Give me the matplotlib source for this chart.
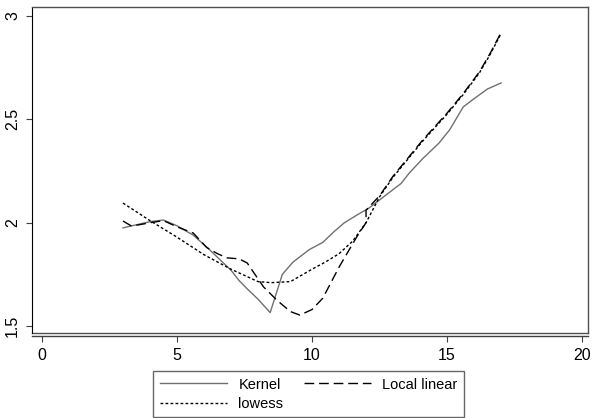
import numpy as np
import matplotlib
matplotlib.use("Agg")
import matplotlib.pyplot as plt

plt.rcParams['font.family'] = ['Liberation Sans', 'DejaVu Sans']

# kernel regression (gray solid)
kern_x = [3.0, 3.5, 4.0, 4.5, 5.0, 5.6, 6.2, 6.6, 7.0, 7.3, 7.6, 8.0, 8.45, 8.9, 9.3,
          9.9, 10.4, 10.8, 11.2, 11.7, 12.1, 12.6, 13.3, 13.6, 14.1, 14.7, 15.1, 15.6,
          16.0, 16.5, 17.0]
kern_y = [1.975, 1.99, 2.005, 2.013, 1.985, 1.94, 1.87, 1.82, 1.77, 1.72, 1.68, 1.63,
          1.565, 1.75, 1.81, 1.87, 1.905, 1.955, 2.0, 2.04, 2.07, 2.12, 2.19, 2.24,
          2.31, 2.385, 2.45, 2.56, 2.6, 2.647, 2.676]

# local linear (black dashed)
ll_x = [3.0, 3.3, 3.6, 4.0, 4.5, 5.0, 5.6, 6.1, 6.5, 6.85, 7.3, 7.6, 8.2, 8.7, 9.2,
        9.55, 10.0, 10.4, 11.0, 11.65, 12.0, 12.0, 12.5, 13.0, 14.1, 15.0, 15.6,
        16.2, 16.6, 17.0]
ll_y = [2.008, 1.985, 1.99, 2.0, 2.01, 1.98, 1.95, 1.88, 1.85, 1.83, 1.825, 1.805,
        1.69, 1.625, 1.57, 1.553, 1.58, 1.635, 1.785, 1.93, 2.0, 2.06, 2.13, 2.225,
        2.4, 2.53, 2.625, 2.73, 2.82, 2.92]

# lowess (black dotted)
lw_x = [3.0, 4.0, 5.0, 6.0, 7.0, 8.0, 8.5, 9.2, 10.0, 10.5, 11.0, 11.5, 12.0, 12.5,
        13.0, 14.1, 15.0, 15.6, 16.2, 16.6, 17.0]
lw_y = [2.095, 2.01, 1.93, 1.845, 1.775, 1.715, 1.71, 1.715, 1.775, 1.81, 1.85, 1.91,
        2.0, 2.125, 2.22, 2.395, 2.525, 2.62, 2.725, 2.815, 2.915]

xticks = [0, 5, 10, 15, 20]
yticks = [1.5, 2, 2.5, 3]
ytick_labels = ["1.5", "2", "2.5", "3"]

fig = plt.figure(figsize=(5.93, 4.18), dpi=100)
ax = fig.add_axes([32/593, 85/418, 556/593, 326/418])

l1, = ax.plot(kern_x, kern_y, color="#707070", lw=1.0, label="Kernel")
l2, = ax.plot(ll_x, ll_y, color="black", lw=1.0, dashes=(7, 3.5), label="Local linear")
l3, = ax.plot(lw_x, lw_y, color="black", lw=1.0, dashes=(2, 1.6), label="lowess")

ax.set_xlim(-0.37, 20.22)
ax.set_ylim(1.4664, 3.0435)
ax.set_xticks(xticks)
ax.set_yticks(yticks)
ax.set_yticklabels(ytick_labels, rotation=90, va="center")

for s in ["top", "right"]:
    ax.spines[s].set_color("#505050")
    ax.spines[s].set_linewidth(1.0)
ax.spines["left"].set_color("black")
ax.spines["bottom"].set_position(("outward", 2))
ax.spines["bottom"].set_color("#404040")
ax.spines["bottom"].set_linewidth(1.0)
# box bottom edge
ax.plot([0, 1], [0, 0], transform=ax.transAxes, color="#505050", lw=1.0, clip_on=False)

ax.tick_params(axis="both", labelsize=11.5, length=4.5, width=0.8, color="#404040")
ax.tick_params(axis="x", pad=4)
ax.tick_params(axis="y", pad=4)

# column-wise fill: Kernel / lowess in col 1, Local linear in col 2
leg = fig.legend(handles=[l1, l3, l2], loc="upper left",
                 bbox_to_anchor=(153/593, 1 - 371/418), ncol=2,
                 fontsize=10.5, handlelength=4.6, handletextpad=0.8,
                 columnspacing=1.4, borderpad=0.45, labelspacing=0.35,
                 frameon=True, fancybox=False, borderaxespad=0)
leg.get_frame().set_edgecolor("#404040")
leg.get_frame().set_linewidth(1.0)

fig.savefig("out.png", dpi=100)
